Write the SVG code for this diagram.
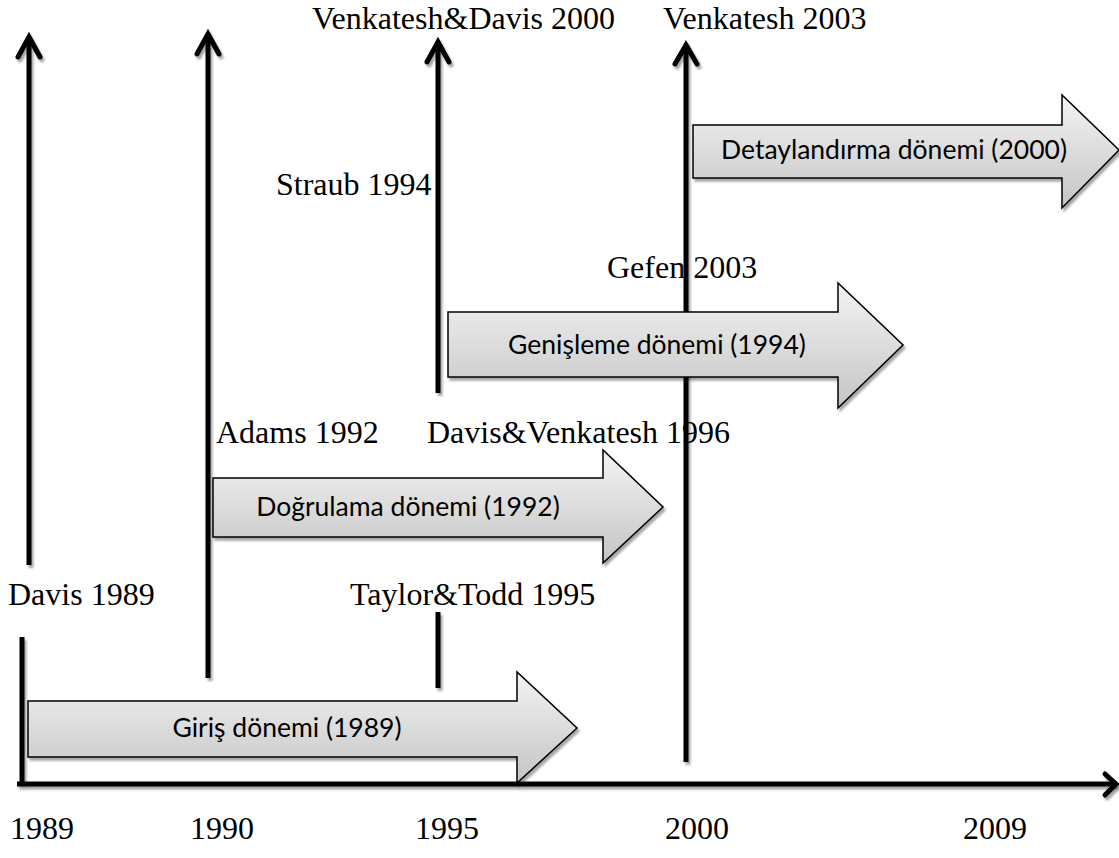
<svg xmlns="http://www.w3.org/2000/svg" width="1119" height="858" viewBox="0 0 1119 858">
  <defs>
    <linearGradient id="blockFill" x1="0" y1="0" x2="0" y2="1">
      <stop offset="0" stop-color="#f4f4f4"/>
      <stop offset="1" stop-color="#c4c4c4"/>
    </linearGradient>
    <filter id="shadow" filterUnits="userSpaceOnUse" x="0" y="0" width="1119" height="858">
      <feDropShadow dx="2" dy="3" stdDeviation="1.2" flood-color="#000" flood-opacity="0.35"/>
    </filter>
  </defs>
  <style>
    .axis { stroke: #000; stroke-width: 5; fill: none; stroke-linecap: butt; filter: url(#shadow); }
    .head { stroke: #000; stroke-width: 5; fill: none; stroke-linecap: round; stroke-linejoin: miter; filter: url(#shadow); }
    .block { fill: url(#blockFill); stroke: #000; stroke-width: 1.5; filter: url(#shadow); }
    .blockText { font-family: Lato, "Open Sans", "Liberation Sans", sans-serif; font-size: 26.5px; fill: #000; text-anchor: middle; }
    .serif { font-family: "Liberation Serif", "Times New Roman", serif; font-size: 32px; fill: #000; }
  </style>

  <rect width="1119" height="858" fill="#fff"/>

  <!-- labels -->
  <g id="labels">
    <text class="serif" x="312" y="29">Venkatesh&amp;Davis 2000</text>
    <text class="serif" x="663" y="29">Venkatesh 2003</text>
    <text class="serif" x="276" y="195">Straub 1994</text>
    <text class="serif" x="607" y="278">Gefen 2003</text>
    <text class="serif" x="216" y="443">Adams 1992</text>
    <text class="serif" x="427" y="443">Davis&amp;Venkatesh 1996</text>
    <text class="serif" x="8" y="605">Davis 1989</text>
    <text class="serif" x="350" y="605">Taylor&amp;Todd 1995</text>
    <text class="serif" x="10" y="839">1989</text>
    <text class="serif" x="190" y="839">1990</text>
    <text class="serif" x="415" y="839">1995</text>
    <text class="serif" x="665" y="839">2000</text>
    <text class="serif" x="963" y="839">2009</text>
  </g>

  <!-- connectors: time axis and milestone lines -->
  <g id="connectors">
    <line class="axis" x1="17" y1="784" x2="1116" y2="784"/>
    <polyline class="head" points="1105,774 1116,784 1105,795"/>

    <line class="axis" x1="22" y1="637" x2="22" y2="783"/>

    <line class="axis" x1="29" y1="38" x2="29" y2="565"/>
    <polyline class="head" points="18,57 29,37 40,57"/>

    <line class="axis" x1="208" y1="35" x2="208" y2="678"/>
    <polyline class="head" points="197,54 208,34 219,54"/>

    <line class="axis" x1="438" y1="43" x2="438" y2="393"/>
    <polyline class="head" points="427,62 438,42 449,62"/>

    <line class="axis" x1="438" y1="612" x2="438" y2="688"/>

    <line class="axis" x1="686" y1="46" x2="686" y2="762"/>
    <polyline class="head" points="675,64 686,45 697,64"/>
  </g>

  <!-- period block arrows -->
  <g id="giris">
    <path class="block" d="M28,701 H517 V672 L577,728 L517,783 V757 H28 Z"/>
    <text class="blockText" x="287" y="737">Giriş dönemi (1989)</text>
  </g>
  <g id="dogrulama">
    <path class="block" d="M213,478 H603 V450 L663,507 L603,563 V537 H213 Z"/>
    <text class="blockText" x="408" y="516">Doğrulama dönemi (1992)</text>
  </g>
  <g id="genisleme">
    <path class="block" d="M448,312 H838 V283 L903,345 L838,408 V377 H448 Z"/>
    <text class="blockText" x="657" y="354">Genişleme dönemi (1994)</text>
  </g>
  <g id="detaylandirma">
    <path class="block" d="M693,125 H1062 V95 L1119,150 L1062,208 V178 H693 Z"/>
    <text class="blockText" x="894" y="159">Detaylandırma dönemi (2000)</text>
  </g>
</svg>
